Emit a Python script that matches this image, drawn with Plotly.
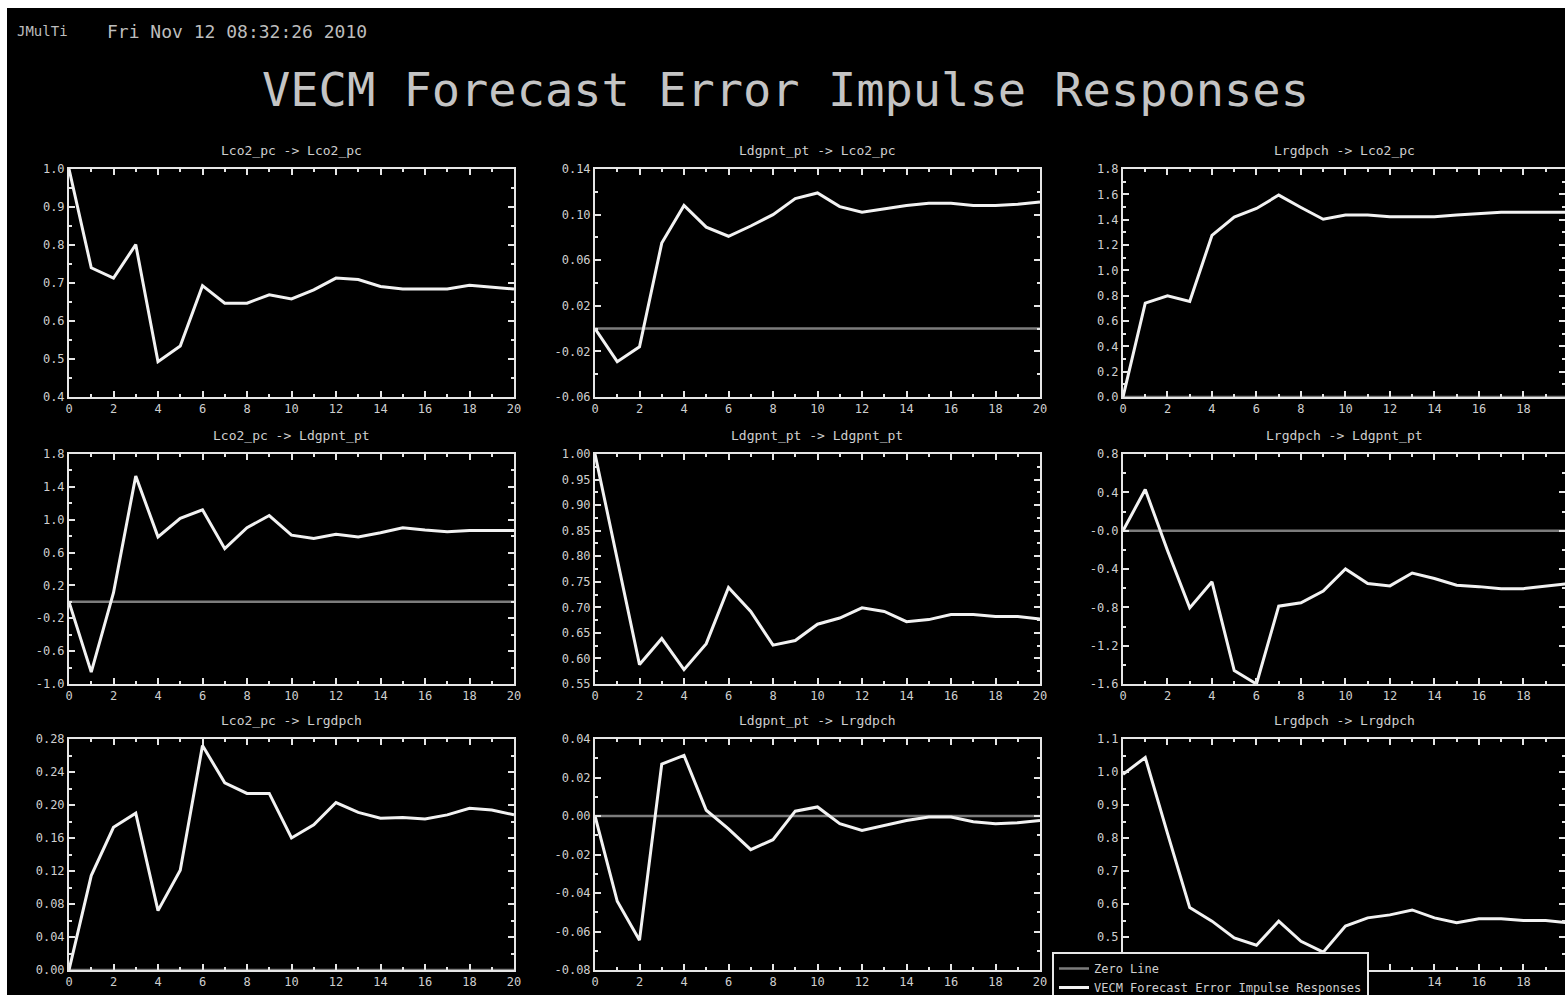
import plotly.graph_objects as go
from plotly.subplots import make_subplots

# ---------------- data ----------------
horizon = list(range(21))

panel_titles = [
    "Lco2_pc -> Lco2_pc", "Ldgpnt_pt -> Lco2_pc", "Lrgdpch -> Lco2_pc",
    "Lco2_pc -> Ldgpnt_pt", "Ldgpnt_pt -> Ldgpnt_pt", "Lrgdpch -> Ldgpnt_pt",
    "Lco2_pc -> Lrgdpch", "Ldgpnt_pt -> Lrgdpch", "Lrgdpch -> Lrgdpch",
]

lco2_to_lco2 = [1.000, 0.740, 0.713, 0.801, 0.493, 0.534, 0.693, 0.647, 0.647, 0.669, 0.658,
                0.682, 0.713, 0.709, 0.691, 0.684, 0.684, 0.684, 0.694, 0.689, 0.684]
ldgp_to_lco2 = [0.000, -0.029, -0.016, 0.075, 0.108, 0.089, 0.081, 0.090, 0.100, 0.114, 0.119,
                0.107, 0.102, 0.105, 0.108, 0.110, 0.110, 0.108, 0.108, 0.109, 0.111]
lrgd_to_lco2 = [0.000, 0.741, 0.799, 0.754, 1.276, 1.421, 1.488, 1.594, 1.496, 1.403, 1.437,
                1.437, 1.424, 1.424, 1.424, 1.437, 1.448, 1.459, 1.459, 1.459, 1.459]
lco2_to_ldgp = [0.000, -0.856, 0.112, 1.532, 0.791, 1.018, 1.121, 0.647, 0.902, 1.051, 0.812,
                0.771, 0.824, 0.791, 0.841, 0.902, 0.874, 0.853, 0.869, 0.869, 0.869]
ldgp_to_ldgp = [1.000, 0.795, 0.588, 0.639, 0.578, 0.629, 0.739, 0.692, 0.626, 0.635, 0.667,
                0.679, 0.699, 0.692, 0.672, 0.676, 0.686, 0.686, 0.682, 0.682, 0.677]
lrgd_to_ldgp = [0.000, 0.429, -0.206, -0.806, -0.534, -1.459, -1.600, -0.788, -0.753, -0.629, -0.400,
                -0.552, -0.576, -0.442, -0.499, -0.569, -0.584, -0.605, -0.605, -0.576, -0.552]
lco2_to_lrgd = [0.000, 0.1145, 0.173, 0.190, 0.072, 0.121, 0.272, 0.227, 0.214, 0.214, 0.160,
                0.176, 0.203, 0.191, 0.184, 0.185, 0.183, 0.188, 0.196, 0.194, 0.188]
ldgp_to_lrgd = [0.000, -0.0443, -0.0645, 0.027, 0.0315, 0.003, -0.0067, -0.0175, -0.0123, 0.0025, 0.0047,
                -0.004, -0.0075, -0.005, -0.0023, -0.0005, -0.0005, -0.003, -0.004, -0.0035, -0.0023]
lrgd_to_lrgd = [0.993, 1.044, 0.814, 0.589, 0.548, 0.497, 0.475, 0.548, 0.487, 0.454, 0.533,
                0.558, 0.567, 0.582, 0.558, 0.543, 0.555, 0.555, 0.550, 0.550, 0.543]

responses = [lco2_to_lco2, ldgp_to_lco2, lrgd_to_lco2,
             lco2_to_ldgp, ldgp_to_ldgp, lrgd_to_ldgp,
             lco2_to_lrgd, ldgp_to_lrgd, lrgd_to_lrgd]

zero_line = [0.0] * 21

y_ranges = [[0.4, 1.0], [-0.06, 0.14], [0.0, 1.8],
            [-1.0, 1.8], [0.55, 1.00], [-1.6, 0.8],
            [0.0, 0.28], [-0.08, 0.04], [0.4, 1.1]]

y_tickvals = [
    [0.4, 0.5, 0.6, 0.7, 0.8, 0.9, 1.0],
    [-0.06, -0.02, 0.02, 0.06, 0.10, 0.14],
    [0.0, 0.2, 0.4, 0.6, 0.8, 1.0, 1.2, 1.4, 1.6, 1.8],
    [-1.0, -0.6, -0.2, 0.2, 0.6, 1.0, 1.4, 1.8],
    [0.55, 0.60, 0.65, 0.70, 0.75, 0.80, 0.85, 0.90, 0.95, 1.00],
    [-1.6, -1.2, -0.8, -0.4, 0.0, 0.4, 0.8],
    [0.00, 0.04, 0.08, 0.12, 0.16, 0.20, 0.24, 0.28],
    [-0.08, -0.06, -0.04, -0.02, 0.00, 0.02, 0.04],
    [0.4, 0.5, 0.6, 0.7, 0.8, 0.9, 1.0, 1.1],
]
y_ticktext = [
    ["0.4", "0.5", "0.6", "0.7", "0.8", "0.9", "1.0"],
    ["-0.06", "-0.02", "0.02", "0.06", "0.10", "0.14"],
    ["0.0", "0.2", "0.4", "0.6", "0.8", "1.0", "1.2", "1.4", "1.6", "1.8"],
    ["-1.0", "-0.6", "-0.2", "0.2", "0.6", "1.0", "1.4", "1.8"],
    ["0.55", "0.60", "0.65", "0.70", "0.75", "0.80", "0.85", "0.90", "0.95", "1.00"],
    ["-1.6", "-1.2", "-0.8", "-0.4", "-0.0", "0.4", "0.8"],
    ["0.00", "0.04", "0.08", "0.12", "0.16", "0.20", "0.24", "0.28"],
    ["-0.08", "-0.06", "-0.04", "-0.02", "0.00", "0.02", "0.04"],
    ["", "0.5", "0.6", "0.7", "0.8", "0.9", "1.0", "1.1"],
]
y_minor_step = [0.05, 0.02, 0.1, 0.2, 0.025, 0.2, 0.02, 0.01, 0.05]

x_tickvals = [0, 2, 4, 6, 8, 10, 12, 14, 16, 18, 20]
x_ticktext = ["0", "2", "4", "6", "8", "10", "12", "14", "16", "18", "20"]
# last panel: labels 0-12 sit under the legend box in the original
x_ticktext_last = ["", "", "", "", "", "", "", "14", "16", "18", "20"]

main_title = "VECM Forecast Error Impulse Responses"
header_left = "JMulTi"
header_date = "Fri Nov 12 08:32:26 2010"
legend_zero = "Zero Line"
legend_resp = "VECM Forecast Error Impulse Responses"

# ---------------- layout geometry ----------------
W, H = 1565, 995
col_px = [(69, 514), (595, 1040), (1123, 1565)]
row_px = [(169, 397), (454, 684), (739, 970)]
x_right_range = [20, 20, 19.87]

FONT = "DejaVu Sans Mono"
TXT = "#cfcfcf"
FRAME = "#e6e6e6"

fig = make_subplots(rows=3, cols=3)

for i in range(9):
    r, c = divmod(i, 3)
    fig.add_trace(go.Scatter(x=horizon, y=zero_line, mode="lines",
                             line=dict(color="#7c7c7c", width=2.5),
                             name=legend_zero, showlegend=(i == 0),
                             legendgroup="zero", hoverinfo="skip"),
                  row=r + 1, col=c + 1)
    fig.add_trace(go.Scatter(x=horizon, y=responses[i], mode="lines",
                             line=dict(color="#f2f2f2", width=3),
                             name=legend_resp, showlegend=(i == 0),
                             legendgroup="resp"),
                  row=r + 1, col=c + 1)

    x0, x1 = col_px[c]
    y0, y1 = row_px[r]
    fig.update_xaxes(domain=[x0 / W, x1 / W], range=[0, x_right_range[c]],
                     tickvals=x_tickvals,
                     ticktext=(x_ticktext_last if i == 8 else x_ticktext),
                     automargin=False,
                     ticks="inside", ticklen=6, tickwidth=2, tickcolor=FRAME,
                     minor=dict(dtick=1, tick0=0, ticks="inside", ticklen=3,
                                tickwidth=2, tickcolor=FRAME, showgrid=False),
                     showline=True, linecolor=FRAME, linewidth=2, mirror="ticks",
                     showgrid=False, zeroline=False,
                     tickfont=dict(family=FONT, size=12, color=TXT),
                     row=r + 1, col=c + 1)
    fig.update_yaxes(domain=[1 - y1 / H, 1 - y0 / H], range=y_ranges[i],
                     tickvals=y_tickvals[i], ticktext=y_ticktext[i], automargin=False,
                     ticks="inside", ticklen=6, tickwidth=2, tickcolor=FRAME,
                     minor=dict(dtick=y_minor_step[i], tick0=y_ranges[i][0],
                                ticks="inside", ticklen=3, tickwidth=2,
                                tickcolor=FRAME, showgrid=False),
                     showline=True, linecolor=FRAME, linewidth=2, mirror="ticks",
                     showgrid=False, zeroline=False,
                     tickfont=dict(family=FONT, size=12, color=TXT),
                     row=r + 1, col=c + 1)

    fig.add_annotation(text=panel_titles[i], xref="paper", yref="paper",
                       x=((x0 + x1) / 2) / W, y=1 - (y0 - 19) / H,
                       xanchor="center", yanchor="middle", showarrow=False,
                       font=dict(family=FONT, size=13, color=TXT))

fig.add_annotation(text=main_title, xref="paper", yref="paper",
                   x=785 / W, y=1 - 90 / H, xanchor="center", yanchor="middle",
                   showarrow=False, font=dict(family=FONT, size=47, color="#c4c4c4"))
fig.add_annotation(text=header_left, xref="paper", yref="paper",
                   x=15 / W, y=1 - 31 / H, xanchor="left", yanchor="middle",
                   showarrow=False, font=dict(family=FONT, size=14, color="#bdbdbd"))
fig.add_annotation(text=header_date, xref="paper", yref="paper",
                   x=105 / W, y=1 - 31 / H, xanchor="left", yanchor="middle",
                   showarrow=False, font=dict(family=FONT, size=18, color="#bdbdbd"))

# white page edge at top/left, black canvas
fig.add_shape(type="rect", xref="paper", yref="paper",
              x0=7 / W, x1=1.0, y0=0, y1=1 - 8 / H,
              fillcolor="black", line=dict(width=0), layer="below")

fig.update_layout(
    width=W, height=H,
    margin=dict(l=0, r=0, t=0, b=0, autoexpand=False),
    paper_bgcolor="white", plot_bgcolor="black",
    showlegend=True,
    legend=dict(x=1052 / W, y=1 - 952 / H, xanchor="left", yanchor="top",
                bgcolor="black", bordercolor=FRAME, borderwidth=2,
                font=dict(family=FONT, size=12, color=TXT),
                tracegroupgap=0, itemwidth=30),
)

fig.write_html(
    "out.html",
    config={"displayModeBar": False},
    post_script="document.body.style.margin='0';document.body.style.padding='0';"
                "document.body.style.overflow='hidden';",
)
